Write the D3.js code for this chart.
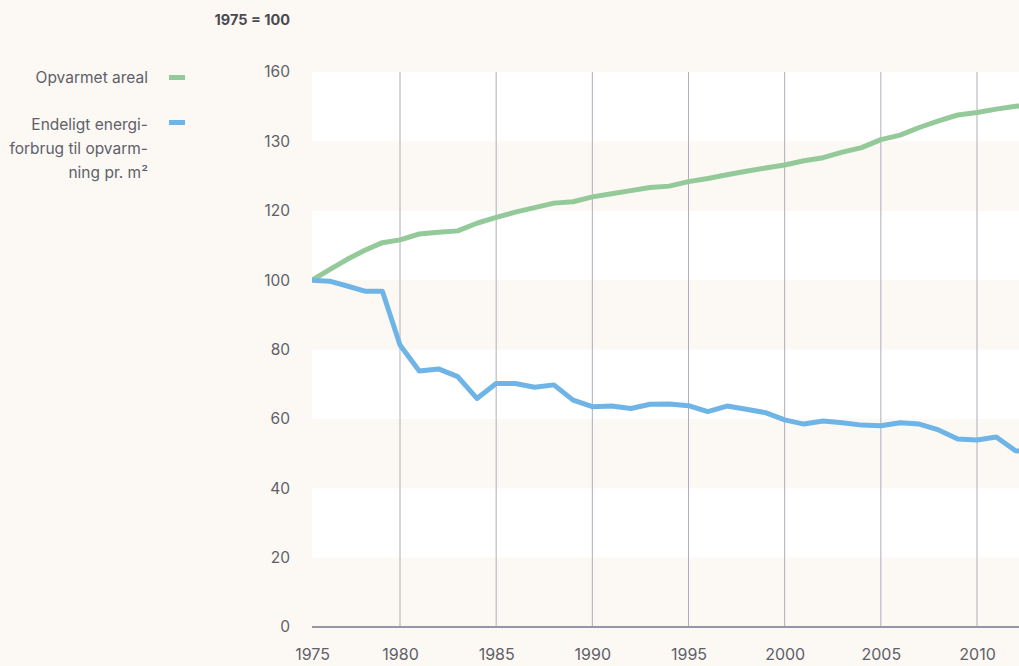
<!DOCTYPE html>
<html>
<head>
<meta charset="utf-8">
<script src="https://cdn.jsdelivr.net/npm/d3@7"></script>
<style>
  html, body { margin: 0; padding: 0; background: #fcf9f4; }
  svg { display: block; font-family: Inter, "Noto Sans", sans-serif; }
</style>
</head>
<body>
<div id="chart"></div>
<script>
/**
 * DATA (1975 = 100)
 * */
const years = d3.range(1975, 2014);
// opvarmet areal
const areal = [
  100, 103, 106, 108.6, 110.8, 111.6, 113.3, 113.8, 114.2, 116.4,
  118.1, 119.6, 120.9, 122.2, 122.6, 124, 124.9, 125.8, 126.7, 127.1,
  128.4, 129.3, 130.4, 131.4, 132.3, 133.2, 134.4, 135.3, 136.9, 138.2,
  140.5, 141.8, 144, 145.9, 147.6, 148.3, 149.3, 150.1, 150.6
];
// endeligt energiforbrug til opvarmning pr. m2
const energi = [
  100, 99.7, 98.3, 96.8, 96.8, 81.3, 73.8, 74.4, 72.2, 65.9,
  70.2, 70.2, 69.1, 69.8, 65.4, 63.5, 63.7, 63, 64.2, 64.3,
  63.8, 62.1, 63.7, 62.8, 61.8, 59.7, 58.5, 59.4, 58.9, 58.2,
  58, 58.9, 58.5, 56.8, 54.2, 53.9, 54.8, 50.8, 50.6
];
const yTicks = [0, 20, 40, 60, 80, 100, 120, 140, 160];
const yTickLabels = ["0", "20", "40", "60", "80", "100", "120", "130", "160"];
const xTicks = [1975, 1980, 1985, 1990, 1995, 2000, 2005, 2010];
const seriesNames = ["Opvarmet areal", ["Endeligt energi-", "forbrug til opvarm-", "ning pr. m²"]];

/**
 * CONSTANTS
 * */
const width = 1019, height = 666;
const plot = { left: 312, right: 1019, top: 72, bottom: 627 };
const colors = { areal: "#94c99a", energi: "#6fb4e6", text: "#606069", grid: "#acaebb", axis: "#9597a6" };

const svg = d3.select("#chart").append("svg")
  .attr("width", width)
  .attr("height", height);

// the first period is drawn a bit narrower than the rest in the original
const x = d3.scaleLinear().domain([1975, 1980, 2010]).range([plot.left, 400, 977]);
const y = d3.scaleLinear().domain([0, 160]).range([plot.bottom, plot.top]);

svg.append("clipPath").attr("id", "plot-clip")
  .append("rect")
  .attr("x", plot.left).attr("y", 0)
  .attr("width", plot.right - plot.left).attr("height", height);

// bands: every other 20-step is white
svg.append("g")
  .selectAll("rect")
  .data(d3.pairs(yTicks))
  .join("rect")
  .attr("x", plot.left)
  .attr("width", plot.right - plot.left)
  .attr("y", d => y(d[1]))
  .attr("height", d => y(d[0]) - y(d[1]))
  .attr("fill", (d, i) => i % 2 ? "#ffffff" : "#fcf9f4");

// vertical grid
svg.append("g")
  .selectAll("line")
  .data(xTicks.filter(d => d > 1975))
  .join("line")
  .attr("x1", d => x(d)).attr("x2", d => x(d))
  .attr("y1", plot.top).attr("y2", plot.bottom)
  .attr("stroke", colors.grid)
  .attr("stroke-width", 1);

// y axis labels
const yAxis = d3.axisLeft(y)
  .tickValues(yTicks)
  .tickSize(0)
  .tickPadding(0)
  .tickFormat((d, i) => yTickLabels[i]);
svg.append("g")
  .attr("transform", `translate(290,0)`)
  .call(yAxis)
  .call(g => g.select(".domain").remove())
  .selectAll("text")
  .attr("font-size", 15.5)
  .attr("font-family", "Inter, sans-serif")
  .attr("fill", colors.text);

// x axis
const xAxis = d3.axisBottom(x)
  .tickValues(xTicks)
  .tickSize(0)
  .tickPadding(0)
  .tickFormat(d3.format("d"));
svg.append("g")
  .attr("transform", `translate(0,${plot.bottom + 28})`)
  .call(xAxis)
  .call(g => g.select(".domain").remove())
  .selectAll("text")
  .attr("dy", "0.32em")
  .attr("font-size", 16)
  .attr("font-family", "Inter, sans-serif")
  .attr("fill", colors.text);

svg.append("line")
  .attr("x1", plot.left).attr("x2", plot.right)
  .attr("y1", plot.bottom).attr("y2", plot.bottom)
  .attr("stroke", colors.axis)
  .attr("stroke-width", 2);

// lines
const line = d3.line()
  .x((d, i) => x(years[i]))
  .y(d => y(d));

const lines = svg.append("g").attr("clip-path", "url(#plot-clip)");
lines.append("path")
  .datum(areal)
  .attr("d", line)
  .attr("fill", "none")
  .attr("stroke", colors.areal)
  .attr("stroke-width", 5)
  .attr("stroke-linejoin", "round");
lines.append("path")
  .datum(energi)
  .attr("d", line)
  .attr("fill", "none")
  .attr("stroke", colors.energi)
  .attr("stroke-width", 5)
  .attr("stroke-linejoin", "round");

// unit label
svg.append("text")
  .attr("x", 290).attr("y", 25)
  .attr("text-anchor", "end")
  .attr("font-size", 14.5)
  .attr("font-weight", 700)
  .attr("fill", "#4a4a52")
  .text("1975 = 100");

// legend
const legend = svg.append("g").attr("font-size", 15.5).attr("fill", colors.text);
legend.append("text")
  .attr("x", 148).attr("y", 83)
  .attr("text-anchor", "end")
  .text(seriesNames[0]);
legend.append("rect")
  .attr("x", 169).attr("y", 75).attr("width", 16).attr("height", 5)
  .attr("fill", colors.areal);

const t2 = legend.append("text")
  .attr("x", 148).attr("y", 130)
  .attr("text-anchor", "end");
t2.selectAll("tspan")
  .data(seriesNames[1])
  .join("tspan")
  .attr("x", 148)
  .attr("dy", (d, i) => i ? 24 : 0)
  .text(d => d);
legend.append("rect")
  .attr("x", 169).attr("y", 120).attr("width", 16).attr("height", 5)
  .attr("fill", colors.energi);
</script>
</body>
</html>
